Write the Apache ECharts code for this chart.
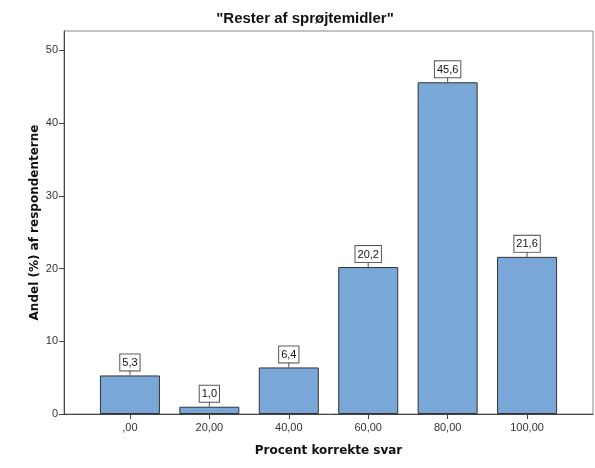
<!DOCTYPE html>
<html><head><meta charset="utf-8">
<script src="https://cdn.jsdelivr.net/npm/echarts@6/dist/echarts.min.js"></script>
<style>html,body{margin:0;padding:0;background:#fff}#c{width:595px;height:468px}</style>
</head><body><div id="c"></div>
<script>
var categories = [",00", "20,00", "40,00", "60,00", "80,00", "100,00"];
var values = [5.3, 1.0, 6.4, 20.2, 45.6, 21.6];
var yTicks = [0, 10, 20, 30, 40, 50];
var titleText = '"Rester af sprøjtemidler"';
var xName = "Procent korrekte svar";
var yName = "Andel (%) af respondenterne";

var font = "Liberation Sans, Arial, sans-serif";
var nameFont = "DejaVu Sans, Verdana, sans-serif";
var idx = categories.map(function (c, i) { return i; });
var barData = values.map(function (v, i) { return [i, v]; });

var chart = echarts.init(document.getElementById('c'), null, {renderer: 'canvas'});
chart.setOption({
  animation: false,
  title: {
    text: titleText, left: 300, top: 6, textAlign: 'center',
    textStyle: {fontFamily: font, fontSize: 15, fontWeight: 'bold', color: '#111'}
  },
  grid: {left: 64, right: 2, top: 31, bottom: 54, show: true, borderColor: '#888', borderWidth: 1, backgroundColor: '#fff'},
  xAxis: {
    type: 'value', min: -0.83, max: 5.83,
    name: xName, nameLocation: 'middle', nameGap: 31,
    nameTextStyle: {fontFamily: nameFont, fontSize: 12, fontWeight: 'bold', color: '#111'},
    axisLine: {show: true, onZero: false, lineStyle: {color: '#444'}},
    axisTick: {show: true, length: 5, customValues: idx, lineStyle: {color: '#444'}},
    axisLabel: {customValues: idx, formatter: function (v) { return categories[Math.round(v)]; },
      fontFamily: font, fontSize: 11, color: '#333', margin: 8},
    splitLine: {show: false}
  },
  yAxis: {
    type: 'value', min: 0, max: 52.65, interval: 10,
    name: yName, nameLocation: 'middle', nameGap: 23, nameRotate: 90, nameMoveOverlap: false,
    nameTextStyle: {fontFamily: nameFont, fontSize: 12, fontWeight: 'bold', color: '#111'},
    axisLine: {show: true, onZero: false, lineStyle: {color: '#444'}},
    axisTick: {show: true, length: 5, customValues: yTicks, lineStyle: {color: '#444'}},
    axisLabel: {customValues: yTicks, fontFamily: font, fontSize: 11, color: '#333', margin: 6},
    splitLine: {show: false}
  },
  series: [{
    type: 'bar', data: barData, barWidth: 60,
    itemStyle: {color: '#79A8D8', borderColor: '#333', borderWidth: 1},
    label: {
      show: true, position: 'top', distance: 5,
      formatter: function (p) { return p.value[1].toFixed(1).replace('.', ','); },
      fontFamily: font, fontSize: 11, color: '#111',
      backgroundColor: '#fff', borderColor: '#555', borderWidth: 1, padding: [3, 2, 2, 2]
    }
  }, {
    type: 'custom', data: barData, z: 5,
    renderItem: function (params, api) {
      var p = api.coord([api.value(0), api.value(1)]);
      return {type: 'line', shape: {x1: p[0], y1: p[1], x2: p[0], y2: p[1] - 5},
        style: {stroke: '#555', lineWidth: 1}};
    }
  }]
});
</script></body></html>
